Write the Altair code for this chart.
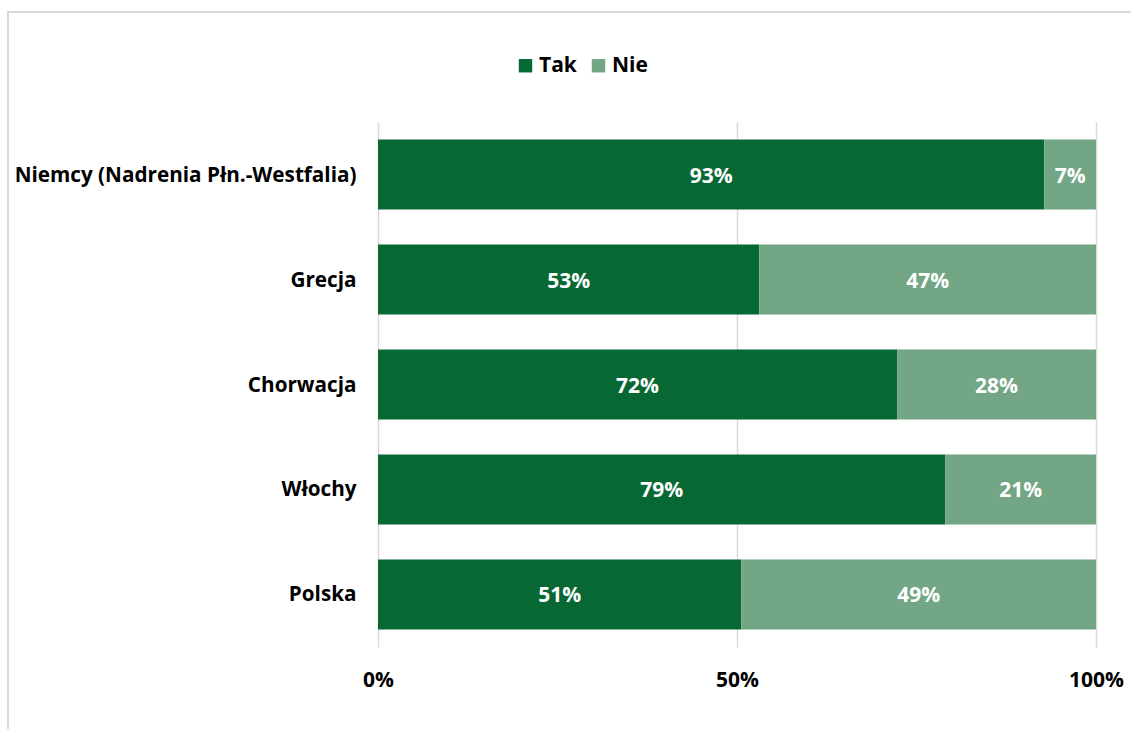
import altair as alt
import pandas as pd

countries = ["Niemcy (Nadrenia Płn.-Westfalia)", "Grecja", "Chorwacja", "Włochy", "Polska"]
tak = [92.8, 53.1, 72.3, 79.0, 50.6]
nie = [7.2, 46.9, 27.7, 21.0, 49.4]
series = ["Tak", "Nie"]
colors = ["#076834", "#72A684"]

rows = []
for c, t, n in zip(countries, tak, nie):
    rows.append({"kraj": c, "odp": "Tak", "val": t, "ord": 0})
    rows.append({"kraj": c, "odp": "Nie", "val": n, "ord": 1})
df = pd.DataFrame(rows)

FONT = "Open Sans"
FS = 21
W, H = 718, 525
PL, PT, PR, PB = 378, 122, 35, 82

base = alt.Chart(df).transform_stack(
    stack="val", groupby=["kraj"], as_=["x0", "x1"], sort=[alt.SortField("ord")]
).transform_calculate(mid="(datum.x0 + datum.x1) / 2",
                      txt="format(datum.val, '.0f') + '%'")

y_enc = alt.Y("kraj:N", sort=countries, title=None,
              scale=alt.Scale(paddingInner=0.333, paddingOuter=0.1667),
              axis=alt.Axis(ticks=False, domain=False, labelFontSize=20.7,
                            labelFontWeight="bold", labelFont=FONT,
                            labelColor="#000000", labelPadding=22, labelLimit=400,
                            labelOffset=1))

bars = base.mark_bar().encode(
    x=alt.X("x0:Q", scale=alt.Scale(domain=[0, 100], nice=False), title=None,
            axis=alt.Axis(values=[0, 50, 100], labelExpr="datum.value + '%'",
                          ticks=False, domain=False, grid=True, gridColor="#d9d9d9",
                          gridWidth=1.5,
                          labelFontSize=FS, labelFontWeight="bold", labelFont=FONT,
                          labelColor="#000000", labelPadding=22,
                          labelAlign="center", labelFlush=False)),
    x2="x1:Q",
    y=y_enc,
    color=alt.Color("odp:N", scale=alt.Scale(domain=series, range=colors), title=None,
                    legend=alt.Legend(orient="none", legendX=137, legendY=-67,
                                      direction="horizontal", symbolType="square",
                                      symbolSize=180, symbolStrokeWidth=0,
                                      labelFontSize=FS, labelFontWeight="bold",
                                      labelFont=FONT, labelColor="#000000",
                                      columnPadding=11, labelOffset=3)),
)

labels = base.mark_text(color="white", fontSize=FS, fontWeight="bold", font=FONT,
                        dy=2).encode(
    x="mid:Q",
    y=alt.Y("kraj:N", sort=countries),
    text="txt:N",
)

frame = alt.Chart(alt.Data(values=[{}])).mark_rect(
    fill=None, stroke="#d9d9d9", strokeWidth=2
).encode(
    x=alt.value(8 - PL), x2=alt.value(1131 - PL + 20),
    y=alt.value(12 - PT), y2=alt.value(729 - PT + 20),
)

chart = alt.layer(frame, bars, labels).properties(
    width=W, height=H,
    background="white",
    autosize=alt.AutoSizeParams(type="none"),
    padding={"left": PL, "top": PT, "right": PR, "bottom": PB},
).configure_view(stroke=None)

chart.save("out.html", embed_options={"renderer": "svg", "actions": False})
